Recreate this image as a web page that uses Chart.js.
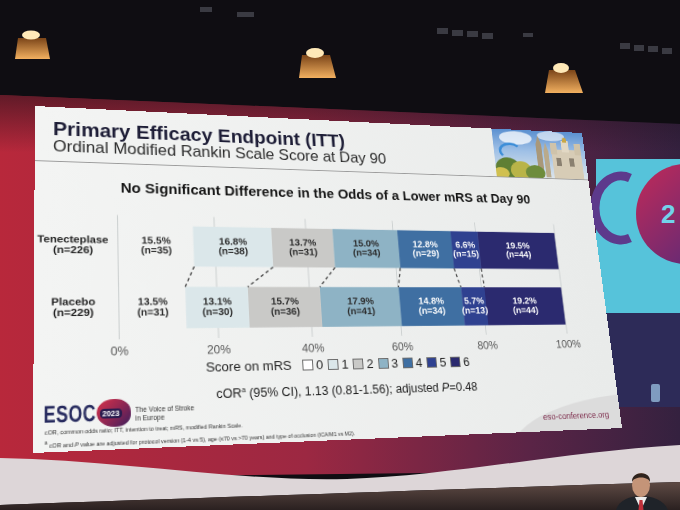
<!DOCTYPE html>
<html>
<head>
<meta charset="utf-8">
<script src="https://cdn.jsdelivr.net/npm/chart.js@4.4.1/dist/chart.umd.min.js"></script>
<style>
  html, body { margin: 0; padding: 0; width: 680px; height: 510px; overflow: hidden; background: #0f0d12;
    font-family: "Liberation Sans", Arial, sans-serif; }
  #scene { position: absolute; left: 0; top: 0; }
  #slide { position: absolute; left: 0; top: 0; width: 600px; height: 340px; transform-origin: 0 0; overflow: hidden;
    background: linear-gradient(90deg, #f3f4f3, #e9ebea); }
  .abs { position: absolute; white-space: nowrap; line-height: 1; }
  #h1 { left: 17px; top: 13px; font-size: 20px; font-weight: bold; color: #1d1d36; }
  #h2 { left: 17px; top: 33.4px; font-size: 16.4px; color: #2a2a2a; }
  #rule { left: 0; top: 57px; width: 600px; height: 1.2px; background: #9c9c9c; }
  #city { left: 487px; top: 0; width: 113px; height: 57px; overflow: hidden;
    background: linear-gradient(#5b90d0, #9fc0e6 45%, #dde5ea); }
  #city div { position: absolute; }
  #ctitle { left: 0; top: 76px; width: 605px; text-align: center; font-size: 14.7px; font-weight: bold; color: #151515; }
  #chartBox { position: absolute; left: 0; top: 100px; width: 600px; height: 160px; }
  #legend { left: 130px; top: 257.5px; width: 336px; display: flex; justify-content: center; align-items: center;
    font-size: 13px; color: #1e1e1e; }
  #legend .lt { margin-right: 11px; }
  #legend .item { display: flex; align-items: center; margin-right: 5px; }
  #legend .item i { display: inline-block; width: 9px; height: 9px; border: 1px solid #6b6b6b; margin-right: 3px; }
  #cor { left: 0; top: 284px; width: 606px; text-align: center; font-size: 12.3px; color: #1c1c1c; }
  #esoc { left: 9px; top: 295px; font-size: 22px; font-weight: bold; color: #262a5e; transform: scaleX(0.72);
    transform-origin: 0 0; letter-spacing: 0.5px; }
  #blob { left: 56px; top: 293px; width: 31px; height: 26px; border-radius: 52% 48% 46% 54%;
    background: linear-gradient(135deg, #d8324a, #8a2552 55%, #3b1f5e); }
  #blob span { position: absolute; left: 3px; top: 9px; padding: 1px 2px; border-radius: 4px; background: #2a1c4e;
    color: #fff; font-size: 7px; font-weight: bold; line-height: 1; }
  #voice { left: 91px; top: 300px; font-size: 6.3px; line-height: 8.4px; color: #333; }
  #notes { left: 10px; top: 317.5px; font-size: 5.3px; line-height: 9px; color: #333; }
  #swoosh { left: 470px; top: 302px; width: 340px; height: 116px; border-radius: 50%; background: #dcdcdc; }
  #site { left: 509px; top: 321px; font-size: 9px; color: #7d2c4c; }
</style>
</head>
<body>
<svg id="scene" width="680" height="510" viewBox="0 0 680 510">
  <defs>
    <linearGradient id="wall" x1="0" x2="1" y1="0" y2="0">
      <stop offset="0" stop-color="#b8283b"/>
      <stop offset="0.45" stop-color="#9c2842"/>
      <stop offset="0.78" stop-color="#5a2446"/>
      <stop offset="1" stop-color="#34213f"/>
    </linearGradient>
    <linearGradient id="wallShade" x1="0" x2="0" y1="0" y2="1">
      <stop offset="0" stop-color="#1a0f18" stop-opacity="0.55"/>
      <stop offset="0.15" stop-color="#1a0f18" stop-opacity="0"/>
    </linearGradient>
    <linearGradient id="floor" x1="0" x2="0" y1="0" y2="1">
      <stop offset="0" stop-color="#5e4a44"/>
      <stop offset="1" stop-color="#2a2020"/>
    </linearGradient>
    <linearGradient id="lamp" x1="0" x2="0" y1="0" y2="1">
      <stop offset="0" stop-color="#7a4418"/>
      <stop offset="1" stop-color="#f2b060"/>
    </linearGradient>
    <linearGradient id="ball" x1="0" x2="1" y1="0" y2="1">
      <stop offset="0" stop-color="#c22a58"/>
      <stop offset="1" stop-color="#4b2a7c"/>
    </linearGradient>
  </defs>
  <rect width="680" height="510" fill="#0f0d12"/>
  <g fill="#3a3a42">
    <rect x="200" y="7" width="12" height="5"/><rect x="237" y="12" width="17" height="5"/>
    <rect x="437" y="28" width="11" height="6"/><rect x="452" y="30" width="11" height="6"/>
    <rect x="467" y="31" width="11" height="6"/><rect x="482" y="33" width="11" height="6"/>
    <rect x="523" y="33" width="10" height="4"/>
    <rect x="620" y="43" width="10" height="6"/><rect x="634" y="45" width="10" height="6"/>
    <rect x="648" y="46" width="10" height="6"/><rect x="662" y="48" width="10" height="6"/>
  </g>
  <g>
    <polygon points="18,38 46,38 50,59 15,59" fill="url(#lamp)"/>
    <ellipse cx="31" cy="35" rx="9" ry="4.5" fill="#ffe9b8"/>
    <polygon points="302,55 330,55 336,78 299,78" fill="url(#lamp)"/>
    <ellipse cx="315" cy="53" rx="9" ry="5" fill="#ffe9b8"/>
    <polygon points="549,70 575,70 583,93 545,93" fill="url(#lamp)"/>
    <ellipse cx="561" cy="68" rx="8" ry="5" fill="#ffe9b8"/>
  </g>
  <polygon points="0,95 680,124 680,470 0,478" fill="url(#wall)"/>
  <polygon points="0,95 680,124 680,470 0,478" fill="url(#wallShade)"/>
  <rect x="596" y="159" width="84" height="154" fill="#56c3da"/>
  <path d="M630,178 A 26 32 0 1 0 630,238" stroke="#5d3a8c" stroke-width="9" fill="none"/>
  <circle cx="686" cy="214" r="50" fill="url(#ball)"/>
  <text x="661" y="223" font-size="26" font-weight="bold" fill="#72d2ea" font-family="Liberation Sans, Arial, sans-serif">2</text>
  <rect x="596" y="313" width="84" height="94" fill="#2d2b58"/>
  <rect x="651" y="384" width="9" height="18" rx="2" fill="#7f9cc0"/>
  <path d="M0,458 C120,460 240,482 347,479 C450,476 560,452 680,445 L680,482 C480,488 260,496 0,505 Z" fill="#ddd6d8"/>
  <path d="M0,505 C260,496 480,488 680,482 L680,510 L0,510 Z" fill="url(#floor)"/>
  <g>
    <path d="M616,510 C619,500 630,496 641,496 C652,496 664,500 668,510 Z" fill="#1f2329"/>
    <polygon points="635,497 647,497 641,510" fill="#ececec"/>
    <polygon points="639.5,500 642.5,500 643.5,510 638.5,510" fill="#c0303a"/>
    <ellipse cx="641" cy="485" rx="9" ry="12" fill="#c49478"/>
    <path d="M632,482 C631,471 651,470 650,482 C648,476 634,476 632,482 Z" fill="#2e231d"/>
  </g>
</svg>

<div id="slide">
  <div class="abs" id="h1">Primary Efficacy Endpoint (ITT)</div>
  <div class="abs" id="h2">Ordinal Modified Rankin Scale Score at Day 90</div>
  <div class="abs" id="rule"></div>
  <div class="abs" id="city">
    <div style="left:8px;top:2px;width:40px;height:16px;border-radius:50%;background:rgba(255,255,255,0.75);"></div>
    <div style="left:55px;top:0;width:34px;height:12px;border-radius:50%;background:rgba(255,255,255,0.6);"></div>
    <div style="left:6px;top:16px;width:22px;height:14px;border-radius:50%;border:3px solid #3d8ed8;border-bottom-color:transparent;border-right-color:transparent;"></div>
    <div style="left:52px;top:6px;width:7px;height:50px;background:#a9987a;clip-path:polygon(50% 0,100% 22%,100% 100%,0 100%,0 22%);"></div>
    <div style="left:61px;top:14px;width:6px;height:42px;background:#b9aa8c;clip-path:polygon(50% 0,100% 25%,100% 100%,0 100%,0 25%);"></div>
    <div style="left:71px;top:22px;width:37px;height:35px;background:#d7ccb6;"></div>
    <div style="left:70px;top:14px;width:8px;height:14px;background:#cfc3aa;"></div>
    <div style="left:84px;top:11px;width:9px;height:14px;background:#e2d8c4;"></div>
    <div style="left:100px;top:14px;width:8px;height:14px;background:#cfc3aa;"></div>
    <div style="left:86px;top:7px;width:5px;height:6px;background:#c8a848;border-radius:50% 50% 0 0;"></div>
    <div style="left:76px;top:32px;width:6px;height:10px;background:#8a8070;"></div>
    <div style="left:92px;top:32px;width:6px;height:10px;background:#8a8070;"></div>
    <div style="left:0;top:34px;width:30px;height:26px;border-radius:50%;background:#5f7f34;"></div>
    <div style="left:18px;top:38px;width:26px;height:22px;border-radius:50%;background:#b9b448;"></div>
    <div style="left:36px;top:42px;width:24px;height:18px;border-radius:50%;background:#6e8c3c;"></div>
    <div style="left:-4px;top:46px;width:20px;height:14px;border-radius:50%;background:#d0c050;"></div>
  </div>
  <div class="abs" id="ctitle">No Significant Difference in the Odds of a Lower mRS at Day 90</div>
  <div id="chartBox"><canvas id="mrsChart"></canvas></div>
  <div class="abs" id="legend"><span class="lt">Score on mRS</span></div>
  <div class="abs" id="cor">cOR<sup style="font-size:7px">a</sup> (95% CI), 1.13 (0.81-1.56); adjusted <i>P</i>=0.48</div>
  <div class="abs" id="swoosh"></div>
  <div class="abs" id="site">eso-conference.org</div>
  <div class="abs" id="esoc">ESOC</div>
  <div class="abs" id="blob"><span>2023</span></div>
  <div class="abs" id="voice">The Voice of Stroke<br>in Europe</div>
  <div class="abs" id="notes">cOR, common odds ratio; ITT, intention to treat; mRS, modified Rankin Scale.<br><sup>a</sup> cOR and <i>P</i> value are adjusted for protocol version (1-4 vs 5), age (≤70 vs &gt;70 years) and type of occlusion (ICA/M1 vs M2).</div>
</div>

<script>
// values
const arms = ['Tenecteplase', 'Placebo'];
const armN = [226, 229];
const mrsScores = [0, 1, 2, 3, 4, 5, 6];
const tnkPct = [15.5, 16.8, 13.7, 15.0, 12.8, 6.6, 19.5];
const tnkN = [35, 38, 31, 34, 29, 15, 44];
const placeboPct = [13.5, 13.1, 15.7, 17.9, 14.8, 5.7, 19.2];
const placeboN = [31, 30, 36, 41, 34, 13, 44];
const xTicks = [0, 20, 40, 60, 80, 100];

const mrsColors = ['#ffffff', '#dbe7ea', '#c9c9c7', '#8eb3c5', '#3f6fa2', '#2f4190', '#2b2a6f'];
const fontFamily = '"Liberation Sans", Arial, sans-serif';

// the slide is photographed at an angle: map the flat slide onto its corners in the photo
const slideQuad = [[35, 106], [582, 133], [622, 428], [33, 453]];

function quadMatrix(w, h, q) {
  const [x0, y0] = q[0], [x1, y1] = q[1], [x2, y2] = q[2], [x3, y3] = q[3];
  const dx1 = x1 - x2, dx2 = x3 - x2, dx3 = x0 - x1 + x2 - x3;
  const dy1 = y1 - y2, dy2 = y3 - y2, dy3 = y0 - y1 + y2 - y3;
  const den = dx1 * dy2 - dx2 * dy1;
  const g = (dx3 * dy2 - dx2 * dy3) / den;
  const k = (dx1 * dy3 - dx3 * dy1) / den;
  const a = x1 - x0 + g * x1, b = x3 - x0 + k * x3;
  const d = y1 - y0 + g * y1, e = y3 - y0 + k * y3;
  return 'matrix3d(' + [a / w, d / w, 0, g / w, b / h, e / h, 0, k / h, 0, 0, 1, 0, x0, y0, 0, 1].join(',') + ')';
}
document.getElementById('slide').style.transform = quadMatrix(600, 340, slideQuad);

Chart.defaults.font.family = fontFamily;

// dashed lines joining the same cumulative boundary in both bars
const connectors = {
  id: 'connectors',
  afterDatasetsDraw(chart) {
    const ctx = chart.ctx;
    ctx.save();
    ctx.strokeStyle = '#444';
    ctx.lineWidth = 1.3;
    ctx.setLineDash([3.5, 3]);
    for (let i = 0; i < mrsScores.length - 1; i++) {
      const meta = chart.getDatasetMeta(i);
      const top = meta.data[0], bottom = meta.data[1];
      ctx.beginPath();
      ctx.moveTo(top.x, top.y + top.height / 2);
      ctx.lineTo(bottom.x, bottom.y - bottom.height / 2);
      ctx.stroke();
    }
    ctx.restore();
  }
};

// percent and n written in the middle of each segment
const segmentLabels = {
  id: 'segmentLabels',
  afterDatasetsDraw(chart) {
    const ctx = chart.ctx;
    ctx.save();
    ctx.font = 'bold 10px ' + fontFamily;
    ctx.textAlign = 'center';
    ctx.textBaseline = 'middle';
    chart.data.datasets.forEach((ds, i) => {
      ctx.fillStyle = i >= 4 ? '#ffffff' : '#2b2b2b';
      chart.getDatasetMeta(i).data.forEach((bar, j) => {
        const cx = (bar.x + bar.base) / 2;
        ctx.fillText(ds.data[j].toFixed(1) + '%', cx, bar.y - 5.1);
        ctx.fillText('(n=' + ds.counts[j] + ')', cx, bar.y + 5.1);
      });
    });
    ctx.restore();
  }
};

new Chart(document.getElementById('mrsChart'), {
  type: 'bar',
  data: {
    labels: arms.map((a, i) => [a, '(n=' + armN[i] + ')']),
    datasets: mrsScores.map((s, i) => ({
      label: 'mRS ' + s,
      data: [tnkPct[i], placeboPct[i]],
      counts: [tnkN[i], placeboN[i]],
      // mRS 0 is left unfilled on the slide
      backgroundColor: i === 0 ? 'rgba(255,255,255,0)' : mrsColors[i],
      borderWidth: 0,
      barPercentage: 0.667,
      categoryPercentage: 1
    }))
  },
  options: {
    indexAxis: 'y',
    responsive: true,
    maintainAspectRatio: false,
    animation: false,
    devicePixelRatio: 2,
    layout: { padding: { top: 8, right: 51, bottom: 0, left: 0 } },
    scales: {
      x: {
        stacked: true,
        min: 0,
        max: 100,
        afterBuildTicks: (axis) => { axis.ticks = xTicks.map(v => ({ value: v })); },
        grid: { color: '#cdd1d1', lineWidth: 1, drawTicks: false },
        border: { display: false },
        ticks: { callback: (v) => v + '%', color: '#555', font: { size: 11.5 }, padding: 5 }
      },
      y: {
        stacked: true,
        grid: { display: false },
        border: { display: false },
        ticks: { crossAlign: 'center', color: '#222', padding: 1,
          font: { size: 10.5, weight: 'bold', lineHeight: 1.0 } },
        afterFit: (axis) => { axis.width = 77.5; }
      }
    },
    plugins: {
      legend: { display: false },
      tooltip: { enabled: false }
    }
  },
  plugins: [connectors, segmentLabels]
});

// legend row: "Score on mRS" followed by one box per score
const legend = document.getElementById('legend');
mrsScores.forEach((s, i) => {
  const item = document.createElement('span');
  item.className = 'item';
  item.innerHTML = '<i style="background:' + mrsColors[i] + '"></i>' + s;
  legend.appendChild(item);
});
</script>
</body>
</html>
